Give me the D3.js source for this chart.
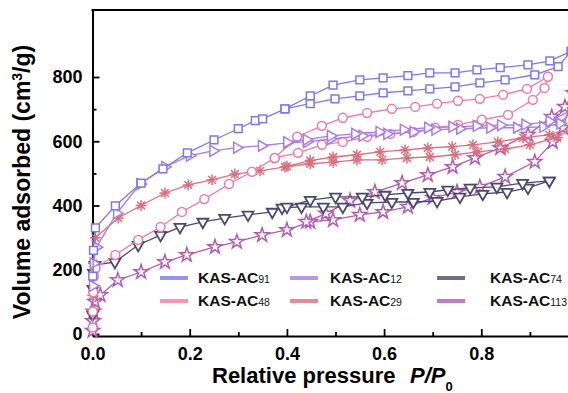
<!DOCTYPE html>
<html>
<head>
<meta charset="utf-8">
<script src="https://cdn.jsdelivr.net/npm/d3@7"></script>
<style>
  body { margin: 0; background: #fff; }
  svg { display: block; font-family: "Liberation Sans", Arial, sans-serif; }
</style>
</head>
<body>
<div id="chart"></div>
<script>
// isotherm points, [P/P0, volume]
var ac91Ads = [[0.0005,180],[0.002,260],[0.006,330],[0.047,399],[0.1,470],[0.145,514],[0.195,564],[0.25,604],[0.3,639],[0.335,664],[0.35,670],[0.396,701],[0.448,717],[0.499,732],[0.55,741],[0.598,751],[0.649,757],[0.694,763],[0.746,769],[0.797,782],[0.849,791],[0.91,807],[0.958,832],[0.985,880]];
var ac91Des = [[0.985,880],[0.941,850],[0.896,838],[0.839,829],[0.791,822],[0.746,813],[0.694,813],[0.649,804],[0.598,797],[0.55,791],[0.495,775],[0.448,741],[0.396,701]];

var ac12Ads = [[0.0005,150],[0.002,220],[0.008,270],[0.05,376],[0.098,467],[0.149,520],[0.2,555],[0.248,570],[0.297,580],[0.348,586],[0.4,595],[0.441,598],[0.49,607],[0.555,617],[0.606,623],[0.66,629],[0.705,636],[0.756,639],[0.818,642],[0.873,642],[0.927,645],[0.962,655],[0.99,700]];
var ac12Des = [[0.99,700],[0.94,662],[0.89,652],[0.84,650],[0.79,648],[0.74,645],[0.69,642],[0.64,636],[0.59,629],[0.54,623],[0.49,617],[0.44,605],[0.4,597]];

var ac74Ads = [[0.0003,60],[0.001,140],[0.002,190],[0.005,215],[0.046,224],[0.094,277],[0.14,308],[0.18,333],[0.227,349],[0.272,361],[0.32,371],[0.37,380],[0.39,393],[0.43,396],[0.475,396],[0.515,396],[0.565,408],[0.616,411],[0.66,411],[0.709,414],[0.756,427],[0.803,436],[0.853,442],[0.896,455],[0.94,477]];
var ac74Des = [[0.94,477],[0.885,470],[0.832,458],[0.777,455],[0.731,449],[0.694,442],[0.649,439],[0.602,433],[0.555,427],[0.5,427],[0.448,417],[0.4,396]];

var ac48Ads = [[0.0003,20],[0.0008,70],[0.0015,130],[0.003,180],[0.006,205],[0.047,246],[0.094,293],[0.14,333],[0.184,380],[0.23,420],[0.281,467],[0.328,505],[0.375,548],[0.423,564],[0.472,589],[0.515,598],[0.565,614],[0.613,623],[0.66,629],[0.705,642],[0.752,651],[0.801,667],[0.855,682],[0.906,729],[0.93,766],[0.937,801]];
var ac48Des = [[0.937,801],[0.894,763],[0.845,745],[0.797,732],[0.752,726],[0.709,717],[0.664,707],[0.616,701],[0.565,688],[0.515,673],[0.472,648],[0.421,614],[0.375,548]];

var ac29Ads = [[0.0005,120],[0.002,220],[0.006,300],[0.053,361],[0.1,400],[0.149,439],[0.197,464],[0.246,480],[0.293,498],[0.345,508],[0.396,520],[0.448,530],[0.495,535],[0.544,542],[0.596,542],[0.647,548],[0.694,551],[0.746,558],[0.793,567],[0.849,576],[0.9,589],[0.956,611],[0.99,645]];
var ac29Des = [[0.99,645],[0.94,620],[0.886,611],[0.834,598],[0.783,589],[0.74,583],[0.69,579],[0.643,573],[0.592,567],[0.544,558],[0.495,551],[0.448,540],[0.4,522]];

var ac113Ads = [[0.0003,10],[0.001,40],[0.002,70],[0.005,100],[0.016,121],[0.052,168],[0.1,193],[0.149,224],[0.194,246],[0.252,271],[0.297,287],[0.349,308],[0.4,324],[0.448,349],[0.495,355],[0.55,371],[0.598,380],[0.649,396],[0.7,424],[0.75,442],[0.797,458],[0.849,489],[0.91,536],[0.947,598],[0.968,642],[0.99,750]];
var ac113Des = [[0.99,750],[0.972,707],[0.945,676],[0.896,620],[0.839,579],[0.787,548],[0.741,520],[0.69,495],[0.637,470],[0.581,442],[0.53,415],[0.48,375],[0.44,349]];

var seriesSubs = ["91", "12", "74", "48", "29", "113"];
var seriesColors = ["#7c78ee", "#a57de3", "#4a4870", "#f27aa2", "#dc6f7d", "#b05cb3"];
var seriesMarkers = ["square", "triRight", "triDown", "circle", "asterisk", "star"];
var seriesData = [[ac91Ads, ac91Des], [ac12Ads, ac12Des], [ac74Ads, ac74Des],
                  [ac48Ads, ac48Des], [ac29Ads, ac29Des], [ac113Ads, ac113Des]];

var xMajor = [0, 0.2, 0.4, 0.6, 0.8];
var xMinor = [0.1, 0.3, 0.5, 0.7, 0.9];
var yMajor = [0, 200, 400, 600, 800];
var yMinor = [100, 300, 500, 700];

var width = 568, height = 393;

var svg = d3.select("#chart")
  .append("svg")
  .attr("width", width)
  .attr("height", height);

var x = d3.scaleLinear().domain([0, 1]).range([92.5, 578.5]);
var y = d3.scaleLinear().domain([-6.2, 1008.6]).range([336, 10]);

// axes, ticks pointing inward
function styleAxis(g) {
  g.attr("font-family", null).attr("font-size", 18).attr("font-weight", "bold");
  g.select(".domain").attr("stroke", "#000").attr("stroke-width", 2);
  g.selectAll(".tick line").attr("stroke", "#000").attr("stroke-width", 1.8);
  g.selectAll(".tick text").attr("fill", "#000");
}

svg.append("g")
  .attr("transform", "translate(0," + y.range()[0] + ")")
  .call(d3.axisBottom(x).tickValues(xMinor).tickSize(-4).tickFormat(""))
  .call(function(g) { g.select(".domain").remove(); g.selectAll("line").attr("stroke-width", 1.8); });

svg.append("g")
  .attr("transform", "translate(0," + y.range()[0] + ")")
  .call(d3.axisBottom(x).tickValues(xMajor).tickSize(-7).tickSizeOuter(0).tickPadding(11)
    .tickFormat(d3.format(".1f")))
  .call(styleAxis);

svg.append("g")
  .attr("transform", "translate(" + x.range()[0] + ",0)")
  .call(d3.axisLeft(y).tickValues(yMinor).tickSize(-4).tickFormat(""))
  .call(function(g) { g.select(".domain").remove(); g.selectAll("line").attr("stroke-width", 1.8); });

svg.append("g")
  .attr("transform", "translate(" + x.range()[0] + ",0)")
  .call(d3.axisLeft(y).tickValues(yMajor).tickSize(-7).tickSizeOuter(0).tickPadding(10))
  .call(styleAxis);

// top frame
svg.append("line")
  .attr("x1", x.range()[0] - 1).attr("x2", x.range()[1])
  .attr("y1", y.range()[1]).attr("y2", y.range()[1])
  .attr("stroke", "#000").attr("stroke-width", 2);

// markers
function markerPath(type) {
  if (type === "square") return d3.symbol(d3.symbolSquare, 60)();
  if (type === "circle") return d3.symbol(d3.symbolCircle, 62)();
  if (type === "star") return d3.symbol(d3.symbolStar, 62)();
  if (type === "triRight" || type === "triDown") return d3.symbol(d3.symbolTriangle, 52)();
  var r = 5.5, a = r * 0.707;
  return "M" + (-r) + ",0L" + r + ",0M0," + (-r) + "L0," + r +
    "M" + (-a) + "," + (-a) + "L" + a + "," + a + "M" + (-a) + "," + a + "L" + a + "," + (-a);
}
function markerRotate(type) {
  if (type === "triRight") return " rotate(90)";
  if (type === "triDown") return " rotate(180)";
  return "";
}

var line = d3.line()
  .x(function(d) { return x(d[0]); })
  .y(function(d) { return y(d[1]); });

var drawOrder = [5, 2, 4, 3, 1, 0];
drawOrder.forEach(function(i) {
  var col = seriesColors[i];
  var g = svg.append("g");
  seriesData[i].forEach(function(branch) {
    g.append("path")
      .datum(branch)
      .attr("fill", "none")
      .attr("stroke", col)
      .attr("stroke-width", 1.3)
      .attr("d", line);
  });
  seriesData[i].forEach(function(branch) {
    g.selectAll(null)
      .data(branch)
      .enter()
      .append("path")
      .attr("transform", function(d) {
        return "translate(" + x(d[0]) + "," + y(d[1]) + ")" + markerRotate(seriesMarkers[i]);
      })
      .attr("d", markerPath(seriesMarkers[i]))
      .attr("fill", seriesMarkers[i] === "asterisk" ? "none" : "#fff")
      .attr("stroke", col)
      .attr("stroke-width", seriesMarkers[i] === "triDown" ? 1.8 : 1.5);
  });
});

// legend
var legCols = [[160, 198], [290, 330], [437, 490]];
var legRows = [[278, 283], [301, 306]];
seriesSubs.forEach(function(sub, i) {
  var c = legCols[i % 3], r = legRows[Math.floor(i / 3)];
  svg.append("line")
    .attr("x1", c[0]).attr("x2", c[0] + 28)
    .attr("y1", r[0]).attr("y2", r[0])
    .attr("stroke", seriesColors[i]).attr("stroke-opacity", 0.8)
    .attr("stroke-width", 4);
  var t = svg.append("text")
    .attr("x", c[1]).attr("y", r[1])
    .attr("font-size", 15.5).attr("font-weight", "bold").attr("fill", "#111");
  t.append("tspan").text("KAS-AC");
  t.append("tspan").attr("font-size", 10.5).attr("font-weight", "normal").text(sub);
});

// axis titles
var xt = svg.append("text")
  .attr("x", 212).attr("y", 383)
  .attr("font-size", 22).attr("font-weight", "bold").attr("fill", "#000");
xt.append("tspan").text("Relative pressure");
xt.append("tspan").attr("x", 410).attr("font-style", "italic").text("P");
xt.append("tspan").attr("font-style", "italic").text("/");
xt.append("tspan").attr("font-style", "italic").text("P");
xt.append("tspan").attr("font-size", 13).attr("dy", 8).text("0");

var yt = svg.append("text")
  .attr("transform", "translate(30,182) rotate(-90)")
  .attr("text-anchor", "middle")
  .attr("font-size", 23).attr("font-weight", "bold").attr("fill", "#000");
yt.append("tspan").text("Volume adsorbed (cm");
yt.append("tspan").attr("font-size", 14).attr("dy", -8).text("3");
yt.append("tspan").attr("dy", 8).text("/g)");
</script>
</body>
</html>
